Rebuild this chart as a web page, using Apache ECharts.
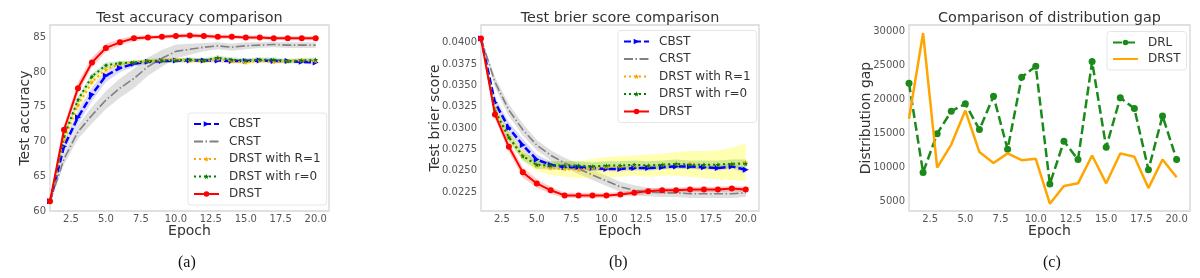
<!DOCTYPE html>
<html>
<head>
<meta charset="utf-8">
<script src="https://cdn.jsdelivr.net/npm/echarts@6/dist/echarts.min.js"></script>
<style>
  html, body { margin: 0; padding: 0; background: #fff; }
  #chart { width: 1200px; height: 278px; }
</style>
</head>
<body>
<div id="chart"></div>
<script>
// ---------- data ----------
const epochs = [1,2,3,4,5,6,7,8,9,10,11,12,13,14,15,16,17,18,19,20];
const xTicks = [2.5,5,7.5,10,12.5,15,17.5,20];

// (a) Test accuracy
const accCBST = [61.4,69.3,73.5,76.8,79.5,80.6,81.2,81.5,81.6,81.7,81.7,81.7,81.7,81.6,81.6,81.7,81.6,81.6,81.5,81.4];
const accCRST = [61.4,67.5,71.4,73.8,76.0,77.7,79.1,80.8,82.0,83.0,83.3,83.6,83.8,83.6,83.8,83.9,84.0,83.9,83.9,83.9];
const accR1   = [61.4,70.3,75.2,78.6,80.4,81.2,81.4,81.6,81.7,81.8,81.7,81.6,81.9,81.6,81.4,81.7,81.5,81.6,81.7,81.6];
const accR0   = [61.4,70.8,76.0,79.4,81.0,81.3,81.4,81.6,81.7,81.7,81.8,81.7,82.1,81.8,81.7,81.8,81.8,81.6,81.7,81.8];
const accDRST = [61.4,71.7,77.7,81.4,83.5,84.3,84.9,85.0,85.1,85.2,85.3,85.2,85.1,85.1,85.0,85.0,84.9,84.9,84.9,84.9];
const accCBSTsd = [0.3,0.8,1.0,1.0,0.9,0.6,0.4,0.3,0.3,0.3,0.3,0.3,0.3,0.3,0.3,0.3,0.3,0.3,0.3,0.3];
const accCRSTsd = [0.3,0.8,1.0,1.2,1.3,1.4,1.4,1.3,1.2,1.0,0.8,0.6,0.5,0.5,0.5,0.4,0.4,0.4,0.4,0.4];
const accR1sd   = [0.3,0.6,0.6,0.5,0.4,0.3,0.3,0.3,0.3,0.3,0.3,0.3,0.3,0.3,0.3,0.3,0.3,0.3,0.3,0.3];
const accR0sd   = [0.3,0.5,0.5,0.4,0.4,0.3,0.3,0.3,0.3,0.3,0.3,0.3,0.3,0.3,0.3,0.3,0.3,0.3,0.3,0.3];
const accDRSTsd = [0.3,0.7,0.8,0.7,0.6,0.5,0.4,0.3,0.3,0.3,0.3,0.3,0.3,0.3,0.3,0.3,0.3,0.3,0.3,0.3];
const accTicks = [60,65,70,75,80,85];

// (b) Test brier score
const brCBST = [0.0405,0.0330,0.0300,0.0280,0.0263,0.0257,0.0254,0.0254,0.0253,0.0252,0.0252,0.0253,0.0253,0.0254,0.0255,0.0255,0.0254,0.0253,0.0255,0.0251];
const brCRST = [0.0405,0.0354,0.0321,0.0298,0.0280,0.0268,0.0259,0.0252,0.0245,0.0238,0.0231,0.0227,0.0225,0.0224,0.0224,0.0223,0.0223,0.0223,0.0223,0.0224];
const brR1   = [0.0405,0.0322,0.0290,0.0268,0.0256,0.0253,0.0252,0.0251,0.0253,0.0254,0.0255,0.0256,0.0256,0.0257,0.0258,0.0258,0.0257,0.0257,0.0258,0.0260];
const brR0   = [0.0405,0.0320,0.0289,0.0267,0.0257,0.0256,0.0256,0.0256,0.0255,0.0256,0.0256,0.0257,0.0256,0.0257,0.0258,0.0257,0.0257,0.0257,0.0258,0.0258];
const brDRST = [0.0405,0.0316,0.0278,0.0248,0.0235,0.0227,0.0221,0.0221,0.0221,0.0221,0.0222,0.0224,0.0226,0.0227,0.0227,0.0228,0.0228,0.0228,0.0229,0.0228];
const brCBSTsd = [0.0001,0.0006,0.0007,0.0007,0.0006,0.0004,0.0003,0.0003,0.0003,0.0003,0.0003,0.0003,0.0003,0.0003,0.0003,0.0003,0.0003,0.0003,0.0003,0.0004];
const brCRSTsd = [0.0001,0.0006,0.0007,0.0007,0.0006,0.0006,0.0006,0.0006,0.0006,0.0006,0.0006,0.0006,0.0005,0.0005,0.0005,0.0005,0.0005,0.0005,0.0005,0.0005];
const brR1sd   = [0.0001,0.0005,0.0005,0.0006,0.0007,0.0008,0.0009,0.0010,0.0011,0.0012,0.0012,0.0012,0.0013,0.0013,0.0014,0.0015,0.0016,0.0017,0.0019,0.0022];
const brR0sd   = [0.0001,0.0005,0.0005,0.0005,0.0005,0.0005,0.0005,0.0005,0.0005,0.0005,0.0005,0.0005,0.0005,0.0005,0.0005,0.0005,0.0005,0.0005,0.0005,0.0005];
const brDRSTsd = [0.0001,0.0005,0.0006,0.0006,0.0005,0.0004,0.0003,0.0003,0.0003,0.0003,0.0003,0.0003,0.0003,0.0003,0.0003,0.0003,0.0003,0.0003,0.0003,0.0003];
const brTicks = [0.0225,0.0250,0.0275,0.0300,0.0325,0.0350,0.0375,0.0400];

// (c) Distribution gap
const gapDRL  = [22400,9300,15000,18300,19400,15600,20500,12700,23300,24900,7600,13900,11200,25600,13000,20300,18700,9700,17600,11200];
const gapDRST = [17200,29800,10000,13400,18400,12300,10700,12100,11100,11300,4700,7300,7700,11800,7700,12100,11600,7000,11200,8600];
const gapTicks = [5000,10000,15000,20000,25000,30000];

const legendAB = ['CBST','CRST','DRST with R=1','DRST with r=0','DRST'];
const legendC = ['DRL','DRST_c'];

// ---------- helpers ----------
const FONT = 'DejaVu Sans';
const pairs = arr => arr.map((v, i) => [epochs[i], v]);

function bandSeries(mean, sd, gi, color) {
  return {
    type: 'custom', xAxisIndex: gi, yAxisIndex: gi, data: pairs(mean),
    encode: { x: 0, y: 1 }, silent: true, z: 1, clip: true,
    renderItem: function (params, api) {
      if (params.dataIndex !== 0) return null;
      const up = mean.map((m, i) => api.coord([epochs[i], m + sd[i]]));
      const lo = mean.map((m, i) => api.coord([epochs[i], m - sd[i]])).reverse();
      return { type: 'polygon', shape: { points: up.concat(lo) }, style: { fill: color } };
    }
  };
}

function lineSeries(name, arr, gi, color, type, width, symbol, size, rotate, z) {
  return {
    type: 'line', name: name, xAxisIndex: gi, yAxisIndex: gi, data: pairs(arr),
    lineStyle: { color: color, width: width, type: type },
    itemStyle: { color: color },
    symbol: symbol, symbolSize: size, symbolRotate: rotate || 0,
    showSymbol: symbol !== 'none', z: z || 3
  };
}

const STAR = 'path://M50,0 L61,35 L98,35 L68,57 L79,91 L50,70 L21,91 L32,57 L2,35 L39,35 Z';

const grids = [
  { left: 50, top: 25, width: 279, height: 186 },
  { left: 481, top: 25, width: 278, height: 186 },
  { left: 909, top: 25, width: 281, height: 186 }
].map(g => Object.assign(g, { show: true, borderColor: '#d6d6d6', borderWidth: 1.3, backgroundColor: '#fff' }));

function xAxis(gi) {
  return {
    type: 'value', gridIndex: gi, min: 1, max: 20.95,
    name: 'Epoch', nameLocation: 'middle', nameGap: 13, nameMoveOverlap: false,
    nameTextStyle: { fontFamily: FONT, fontSize: 14, color: '#333' },
    axisLine: { show: false }, axisTick: { show: false }, splitLine: { show: false },
    axisLabel: { customValues: xTicks, formatter: v => v.toFixed(1), margin: 3,
      fontFamily: FONT, fontSize: 10, color: '#555' }
  };
}
function yAxis(gi, name, min, max, ticks, fmt, gap) {
  return {
    type: 'value', gridIndex: gi, min: min, max: max,
    name: name, nameLocation: 'middle', nameGap: gap, nameMoveOverlap: false,
    nameTextStyle: { fontFamily: FONT, fontSize: 14, color: '#333' },
    axisLine: { show: false }, axisTick: { show: false }, splitLine: { show: false },
    axisLabel: { customValues: ticks, formatter: fmt, margin: 4,
      fontFamily: FONT, fontSize: 10, color: '#555' }
  };
}

function legendItems(names) {
  return names.map(n => (n === 'CRST' || n === 'DRST_c') ? { name: n, itemStyle: { opacity: 0 } } : { name: n });
}

function legend(left, top, data, gap) {
  return {
    orient: 'vertical', left: left, top: top, data: legendItems(data),
    padding: [4, 6, 4, 5], itemWidth: 25, itemHeight: 7, itemGap: gap,
    backgroundColor: 'rgba(255,255,255,0.85)', borderColor: '#e6e6e6', borderWidth: 1, borderRadius: 3,
    formatter: n => n.replace('_c', ''),
    textStyle: { fontFamily: FONT, fontSize: 12, lineHeight: 14, color: '#333', padding: [0, 0, 0, 5] }
  };
}

// ---------- series ----------
const series = [];
// panel a
series.push(bandSeries(accCBST, accCBSTsd, 0, 'rgba(0,0,255,0.15)'));
series.push(bandSeries(accCRST, accCRSTsd, 0, 'rgba(128,128,128,0.25)'));
series.push(bandSeries(accR1, accR1sd, 0, 'rgba(255,255,0,0.3)'));
series.push(bandSeries(accR0, accR0sd, 0, 'rgba(0,128,0,0.18)'));
series.push(bandSeries(accDRST, accDRSTsd, 0, 'rgba(255,0,0,0.2)'));
series.push(lineSeries('CBST', accCBST, 0, '#0000ff', [7, 3], 2.5, 'triangle', 6, -90, 3));
series.push(lineSeries('CRST', accCRST, 0, '#808080', [9, 2.5, 1.5, 2.5], 1.6, 'none', 0, 0, 3));
series.push(lineSeries('DRST with R=1', accR1, 0, '#ffa500', [2, 3], 2, STAR, 5, 0, 4));
series.push(lineSeries('DRST with r=0', accR0, 0, '#008000', [2, 3], 2, STAR, 5, 0, 4));
series.push(lineSeries('DRST', accDRST, 0, '#ff0000', 'solid', 2, 'circle', 6, 0, 5));
// panel b
series.push(bandSeries(brCBST, brCBSTsd, 1, 'rgba(0,0,255,0.15)'));
series.push(bandSeries(brCRST, brCRSTsd, 1, 'rgba(128,128,128,0.25)'));
series.push(bandSeries(brR1, brR1sd, 1, 'rgba(255,255,0,0.3)'));
series.push(bandSeries(brR0, brR0sd, 1, 'rgba(0,128,0,0.18)'));
series.push(bandSeries(brDRST, brDRSTsd, 1, 'rgba(255,0,0,0.2)'));
series.push(lineSeries('CBST', brCBST, 1, '#0000ff', [7, 3], 2.5, 'triangle', 6, -90, 3));
series.push(lineSeries('CRST', brCRST, 1, '#808080', [9, 2.5, 1.5, 2.5], 1.6, 'none', 0, 0, 3));
series.push(lineSeries('DRST with R=1', brR1, 1, '#ffa500', [2, 3], 2, STAR, 5, 0, 4));
series.push(lineSeries('DRST with r=0', brR0, 1, '#008000', [2, 3], 2, STAR, 5, 0, 4));
series.push(lineSeries('DRST', brDRST, 1, '#ff0000', 'solid', 2, 'circle', 6, 0, 5));
// panel c
series.push(lineSeries('DRL', gapDRL, 2, '#1a8a1a', [9, 4], 2.5, 'circle', 7, 0, 3));
series.push(lineSeries('DRST_c', gapDRST, 2, '#ffa500', 'solid', 2.5, 'none', 0, 0, 4));

const titleStyle = { fontFamily: FONT, fontSize: 14.4, fontWeight: 'normal', color: '#333' };
const option = {
  animation: false,
  backgroundColor: '#fff',
  textStyle: { fontFamily: FONT },
  title: [
    { text: 'Test accuracy comparison', left: 189.5, top: 11, textAlign: 'center', padding: 0, textStyle: titleStyle },
    { text: 'Test brier score comparison', left: 620, top: 11, textAlign: 'center', padding: 0, textStyle: titleStyle },
    { text: 'Comparison of distribution gap', left: 1049.5, top: 11, textAlign: 'center', padding: 0, textStyle: titleStyle }
  ],
  grid: grids,
  xAxis: [xAxis(0), xAxis(1), xAxis(2)],
  yAxis: [
    yAxis(0, 'Test accuracy', 60, 86.8, accTicks, v => String(v), 18),
    yAxis(1, 'Test brier score', 0.02027, 0.04208, brTicks, v => v.toFixed(4), 38.5),
    yAxis(2, 'Distribution gap', 3630, 30985, gapTicks, v => String(v), 36)
  ],
  legend: [
    legend(188, 113, legendAB, 3.5),
    legend(618, 30.5, legendAB, 3.5),
    legend(1107, 31.5, legendC, 2.5)
  ],
  graphic: [
    { type: 'text', left: 178, top: 255, style: { text: '(a)', font: '16px "Liberation Serif"', fill: '#111' } },
    { type: 'text', left: 609, top: 255, style: { text: '(b)', font: '16px "Liberation Serif"', fill: '#111' } },
    { type: 'text', left: 1043, top: 255, style: { text: '(c)', font: '16px "Liberation Serif"', fill: '#111' } }
  ],
  series: series
};

const chart = echarts.init(document.getElementById('chart'), null, { renderer: 'canvas' });
chart.setOption(option);
</script>
</body>
</html>
